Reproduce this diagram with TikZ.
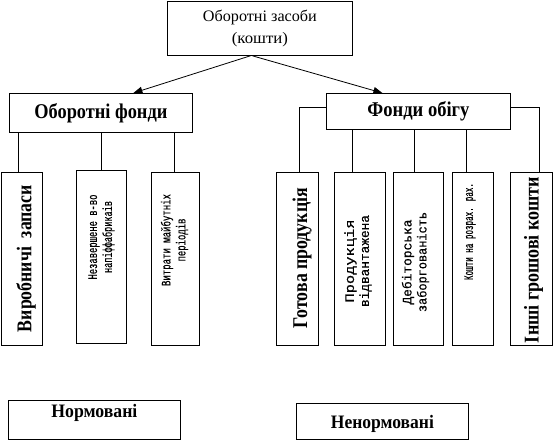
\documentclass[tikz,border=0pt]{standalone}
\usepackage{fontspec}
\usepackage{graphicx}
\setmainfont{Liberation Serif}
\newfontfamily\monof[FakeBold=0.6]{Liberation Mono}
\usetikzlibrary{arrows.meta}
\newcommand{\fw}[2]{\resizebox{#1pt}{\height}{#2}}
\tikzset{
  box/.style={draw, line width=0.8pt, inner sep=0pt, anchor=north west},
  conn/.style={line width=0.8pt},
  arr/.style={line width=0.8pt, -{Triangle[length=9pt,width=7pt]}},
  reg/.style={font=\fontsize{16}{22}\selectfont, align=center, inner sep=0pt},
  head/.style={font=\bfseries\fontsize{21}{24}\selectfont, inner sep=0pt},
  vbold/.style={font=\bfseries\fontsize{21}{24}\selectfont, rotate=90, inner sep=0pt},
  vmono/.style={font=\monof\fontsize{13}{15}\selectfont, rotate=90, align=center, inner sep=0pt},
  foot/.style={font=\bfseries\fontsize{19}{22}\selectfont, inner sep=0pt, anchor=base}
}
\begin{document}
\begin{tikzpicture}[x=1pt,y=-1pt]
\useasboundingbox (0,0) rectangle (560,440);
% top
\node[box, minimum width=185, minimum height=54] (top) at (167,1) {};
\node[reg] (ttop) at (top.center) {\fw{114}{Оборотні засоби}\\\fw{56}{(кошти)}};
% level 2
\node[box, minimum width=183, minimum height=39] (OF) at (9,93) {};
\node[head] (tOF) at (OF.center) {\fw{133}{Оборотні фонди}};
\node[box, minimum width=184, minimum height=36] (FO) at (326,93) {};
\node[head] (tFO) at (FO.center) {\fw{102}{Фонди обігу}};
% arrows
\coordinate (a1) at ([xshift=-9.5pt]top.south);
\coordinate (a2) at ([xshift=-7.5pt]top.south);
\draw[arr] (a1) -- ([xshift=32.5pt]OF.north);
\draw[arr] (a2) -- ([xshift=-36pt]FO.north);
% left children
\node[box, minimum width=41, minimum height=173] (L1) at (1,172) {};
\node[box, minimum width=50, minimum height=173] (L2) at (76,170) {};
\node[box, minimum width=48, minimum height=173] (L3) at (151,172) {};
\node[vbold] (tL1) at (26,258.5) {\fw{147}{Виробничі\ \ запаси}};
\node[vmono] (tL2) at (101.5,237) {\fw{85}{Незавершене в-во}\\\fw{72}{напіффабрикаів}};
\node[vmono] (tL3) at (174.5,240) {\fw{92}{Витрати майбутніх}\\\fw{43}{періодів}};
\coordinate (l1t) at ([xshift=-3.5pt]L1.north);
\coordinate (l2t) at (L2.north);
\coordinate (l3t) at ([xshift=-1.5pt]L3.north);
\draw[conn] (l1t) -- (l1t |- OF.south);
\draw[conn] (l2t) -- (l2t |- OF.south);
\draw[conn] (l3t) -- (l3t |- OF.south);
% right children
\node[box, minimum width=42, minimum height=173] (R1) at (276,172) {};
\node[box, minimum width=51, minimum height=173] (R2) at (334,172) {};
\node[box, minimum width=50, minimum height=173] (R3) at (393,172) {};
\node[box, minimum width=41, minimum height=173] (R4) at (452,172) {};
\node[box, minimum width=42, minimum height=173] (R5) at (510,172) {};
\node[vbold] (tR1) at (302,258) {\fw{140}{Готова продукція}};
\node[vmono] (tR2) at (358,261) {\fw{83}{Продукція}\\\fw{92}{відвантажена}};
\node[vmono] (tR3) at (415.5,262) {\fw{85}{Дебіторська}\\\fw{100}{заборгованість}};
\node[vmono] (tR4) at (470,231.5) {\fw{97}{Кошти на розрах. рах.}};
\node[vbold] (tR5) at (533.5,260) {\fw{166}{Інші грошові кошти}};
\coordinate (r1t) at ([xshift=2pt]R1.north);
\coordinate (r2t) at ([xshift=-7.5pt]R2.north);
\coordinate (r3t) at ([xshift=-4pt]R3.north);
\coordinate (r4t) at ([xshift=-6.5pt]R4.north);
\coordinate (r5t) at ([xshift=8pt]R5.north);
\draw[conn] ([yshift=4pt]FO.west) -| (r1t);
\draw[conn] (r2t) -- (r2t |- FO.south);
\draw[conn] (r3t) -- (r3t |- FO.south);
\draw[conn] (r4t) -- (r4t |- FO.south);
\draw[conn] ([yshift=4pt]FO.east) -| (r5t);
% bottom
\node[box, minimum width=172, minimum height=39] (N1) at (8,400) {};
\node[box, minimum width=172, minimum height=36] (N2) at (296,403) {};
\node[foot] (tN1) at ([yshift=-17pt]N1.north) {\fw{86}{Нормовані}};
\node[foot] (tN2) at ([yshift=-25pt]N2.north) {\fw{103}{Ненормовані}};
\end{tikzpicture}
\end{document}
